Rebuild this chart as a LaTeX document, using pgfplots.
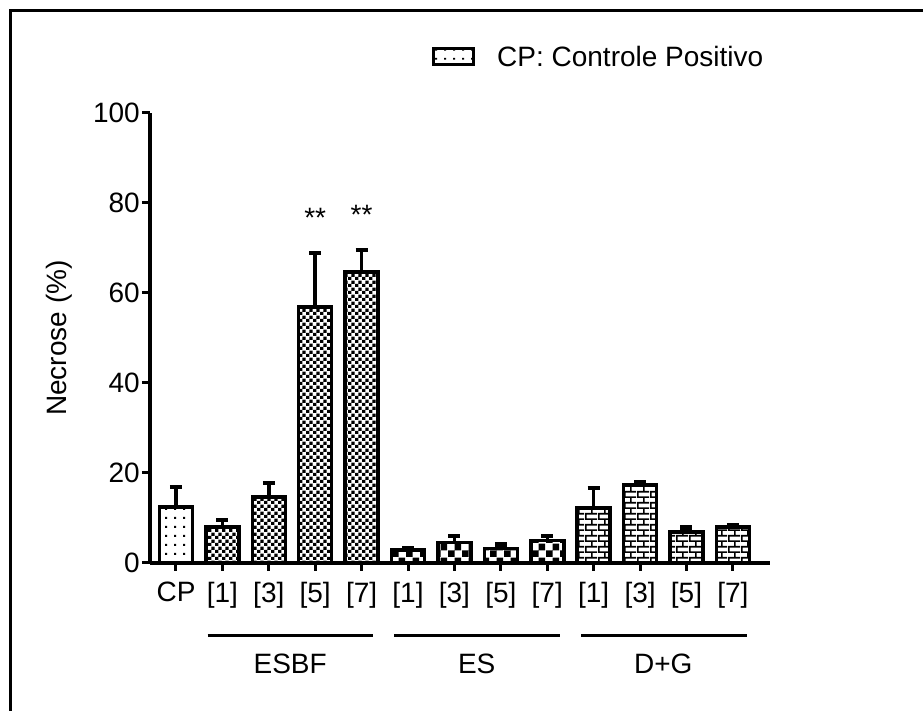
\documentclass[border=0pt]{standalone}
\usepackage{pgfplots}
\pgfplotsset{compat=1.18}
\usepackage{fontspec}
\setmainfont{Liberation Sans}
\usetikzlibrary{patterns}
\pgfdeclarepatternformonly{cpdots}{\pgfqpoint{0pt}{0pt}}{\pgfqpoint{9pt}{9pt}}{\pgfqpoint{9pt}{9pt}}{%
  \pgfpathrectangle{\pgfqpoint{3.5pt}{3.5pt}}{\pgfqpoint{2pt}{2pt}}\pgfusepath{fill}}
\pgfdeclarepatternformonly{finechecker}{\pgfqpoint{0pt}{0pt}}{\pgfqpoint{7.2pt}{7.2pt}}{\pgfqpoint{7.2pt}{7.2pt}}{%
  \pgfpathrectangle{\pgfqpoint{0pt}{0pt}}{\pgfqpoint{3.6pt}{3.6pt}}%
  \pgfpathrectangle{\pgfqpoint{3.6pt}{3.6pt}}{\pgfqpoint{3.6pt}{3.6pt}}\pgfusepath{fill}}
\pgfdeclarepatternformonly{coarsechecker}{\pgfqpoint{0pt}{0pt}}{\pgfqpoint{14pt}{14pt}}{\pgfqpoint{14pt}{14pt}}{%
  \pgfpathrectangle{\pgfqpoint{0pt}{0pt}}{\pgfqpoint{7pt}{7pt}}%
  \pgfpathrectangle{\pgfqpoint{7pt}{7pt}}{\pgfqpoint{7pt}{7pt}}\pgfusepath{fill}}
\pgfdeclarepatternformonly{mybricks}{\pgfqpoint{0pt}{0pt}}{\pgfqpoint{13pt}{11.4pt}}{\pgfqpoint{13pt}{11.4pt}}{%
  \pgfpathrectangle{\pgfqpoint{0pt}{0pt}}{\pgfqpoint{13pt}{1.8pt}}%
  \pgfpathrectangle{\pgfqpoint{0pt}{5.7pt}}{\pgfqpoint{13pt}{1.8pt}}%
  \pgfpathrectangle{\pgfqpoint{0pt}{0pt}}{\pgfqpoint{1.8pt}{5.7pt}}%
  \pgfpathrectangle{\pgfqpoint{6.5pt}{5.7pt}}{\pgfqpoint{1.8pt}{5.7pt}}\pgfusepath{fill}}
\newcommand{\bigf}{\fontsize{28}{33}\selectfont}
\begin{document}
\begin{tikzpicture}
\path[use as bounding box] (0,0) rectangle (923pt,711pt);
\draw[line width=3pt] (10.5pt,0pt) -- (10.5pt,700.5pt) -- (923pt,700.5pt);
\begin{axis}[
  at={(150pt,148pt)}, anchor=south west,
  scale only axis, width=620pt, height=450pt,
  xmin=-0.56, xmax=12.8, ymin=0, ymax=100,
  axis lines=left, axis line style={-, line width=3.5pt},
  clip=false,
  ybar, bar width=33pt, bar shift=0pt,
  xtick={0,1,2,3,4,5,6,7,8,9,10,11,12},
  xticklabels={CP,{[1]},{[3]},{[5]},{[7]},{[1]},{[3]},{[5]},{[7]},{[1]},{[3]},{[5]},{[7]}},
  ytick={0,20,40,60,80,100},
  tick align=outside, major tick length=8pt,
  tick style={line width=3pt, black},
  /pgf/number format/assume math mode=true,
  ticklabel style={font=\bigf, inner sep=2pt},
  xticklabel style={yshift=-9pt},
  ylabel={Necrose (\%)},
  ylabel style={font=\bigf, at={(axis description cs:-0.147,0.5)}, anchor=center},
  every axis plot/.append style={draw=black, line width=3.5pt},
  error bars/y dir=plus, error bars/y explicit,
  error bars/error bar style={line width=3.5pt, black},
  error bars/error mark options={rotate=90, mark size=6pt, line width=4.5pt, black},
  legend style={draw=none, fill=none, font=\bigf, at={(axis description cs:0.45,1.125)}, anchor=west,
    /tikz/every odd column/.append style={column sep=20pt}},
  legend image code/.code={\draw[line width=3pt, pattern=cpdots] (0pt,-8pt) rectangle (40pt,8pt);},
]
\addplot[pattern=cpdots] coordinates {(0,12.4) +- (0,4.5)};
\addlegendentry{CP: Controle Positivo}
\addplot[pattern=finechecker, forget plot] coordinates {
 (1,8.0) +- (0,1.5)
 (2,14.7) +- (0,3.1)
 (3,56.9) +- (0,12.0)
 (4,64.7) +- (0,4.9)};
\addplot[pattern=coarsechecker, forget plot] coordinates {
 (5,2.9) +- (0,0.4)
 (6,4.6) +- (0,1.4)
 (7,3.2) +- (0,0.9)
 (8,5.0) +- (0,1.0)};
\addplot[pattern=mybricks, forget plot] coordinates {
 (9,12.2) +- (0,4.5)
 (10,17.3) +- (0,0.6)
 (11,6.9) +- (0,1.0)
 (12,8.0) +- (0,0.3)};
\node[font=\bigf, anchor=north, inner sep=0pt] at (axis cs:3,78.9) {**};
\node[font=\bigf, anchor=north, inner sep=0pt] at (axis cs:4,79.6) {**};
\draw[line width=3pt] (axis cs:0.68,-16.2) -- (axis cs:4.25,-16.2);
\draw[line width=3pt] (axis cs:4.7,-16.2) -- (axis cs:8.27,-16.2);
\draw[line width=3pt] (axis cs:8.73,-16.2) -- (axis cs:12.3,-16.2);
\node[font=\bigf] at (axis cs:2.46,-22.4) {ESBF};
\node[font=\bigf] at (axis cs:6.48,-22.4) {ES};
\node[font=\bigf] at (axis cs:10.5,-22.4) {D+G};
\end{axis}
\end{tikzpicture}
\end{document}
